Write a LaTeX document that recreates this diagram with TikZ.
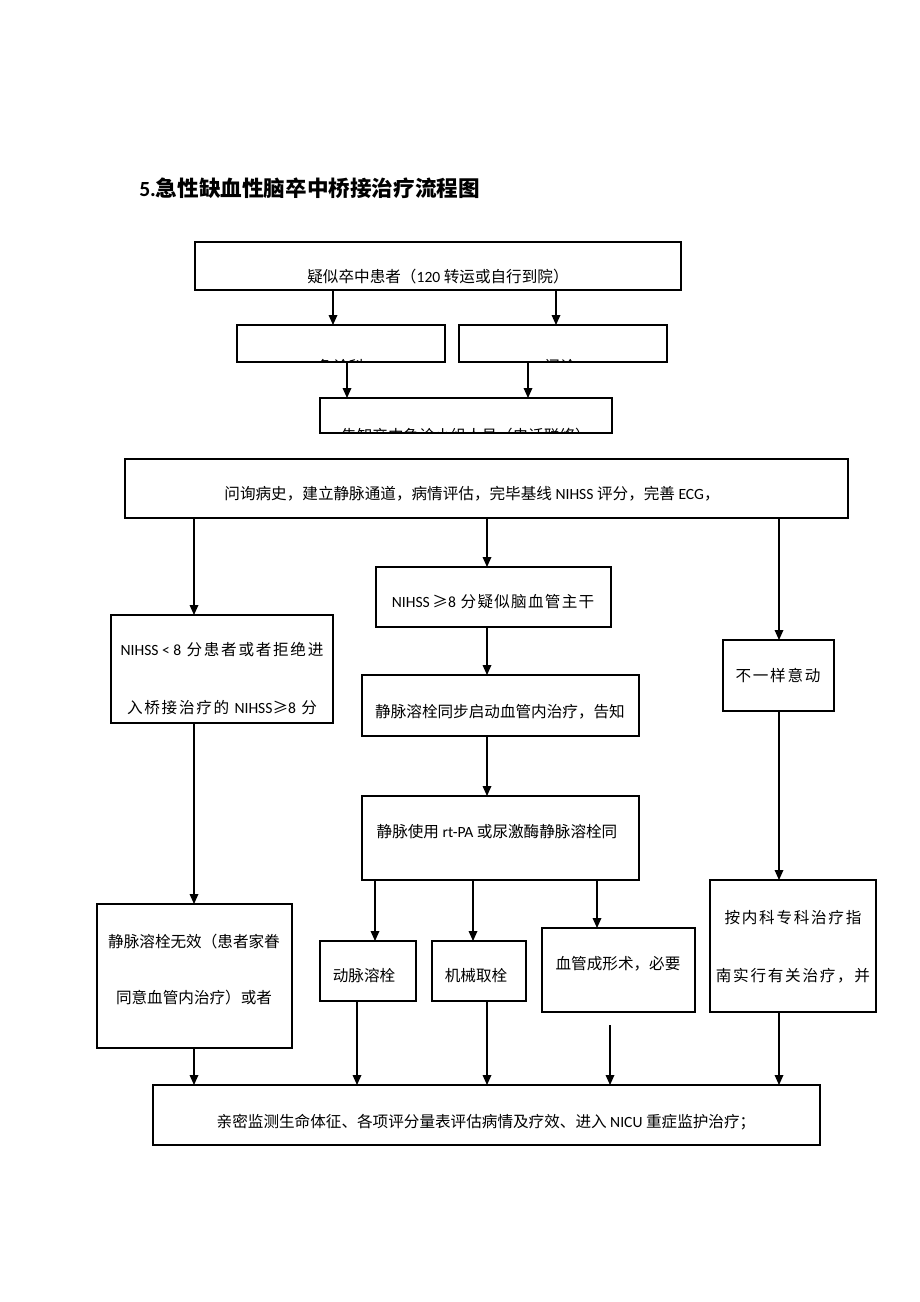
\documentclass[tikz,border=0pt]{standalone}
\usepackage{fontspec}
\setmainfont{Noto Sans CJK SC}
\newfontfamily\lat{Carlito}
\usetikzlibrary{arrows.meta}
\newcommand\bx[5]{\node[box, minimum width={(#4-#2)*0.75pt}, minimum height={(#5-#3)*0.75pt}] (#1) at ({(#2+#4)/2},{(#3+#5)/2}) {};}
\begin{document}
\begin{tikzpicture}[x=0.75pt,y=-0.75pt,
  box/.style={draw, line width=0.9pt, inner sep=0pt, outer sep=0pt},
  arr/.style={line width=0.9pt, -{Triangle[length=7.5pt,width=6.5pt]}},
  txt/.style={inner sep=0pt, font=\fontsize{11.7pt}{14pt}\selectfont},
  sp/.style={txt, font=\fontsize{11.7pt}{14pt}\selectfont\addfontfeature{LetterSpace=#1}}]
\useasboundingbox (0,0) rectangle (920,1302);
% title
\node[anchor=west, inner sep=0pt, font=\fontsize{16.2pt}{19pt}\selectfont\bfseries] (title) at (139,188) {{\lat 5.}急性缺血性脑卒中桥接治疗流程图};
% boxes
\bx{A}{195}{242}{681}{290}
\bx{B1}{237}{325}{445}{362}
\bx{B2}{459}{325}{667}{362}
\bx{C}{320}{398}{612}{433}
\bx{D}{125}{459}{848}{518}
\bx{E1}{111}{615}{333}{723}
\bx{E2}{376}{567}{611}{627}
\bx{E3}{723}{640}{834}{711}
\bx{F}{362}{675}{639}{736}
\bx{G}{362}{796}{639}{880}
\bx{H1}{97}{904}{292}{1048}
\bx{H3}{710}{880}{876}{1012}
\bx{I1}{320}{941}{416}{1001}
\bx{I2}{432}{941}{526}{1001}
\bx{I3}{542}{928}{695}{1012}
\bx{J}{153}{1085}{820}{1145}
% texts
\node[txt] (tA) at (438,277) {疑似卒中患者（{\lat 120} 转运或自行到院）};
\begin{scope}
\clip (B1.south west) rectangle (B1.north east);
\node[txt] (tB1) at (341,367) {急诊科};
\end{scope}
\begin{scope}
\clip (B2.south west) rectangle (B2.north east);
\node[txt] (tB2) at (560,367) {门诊};
\end{scope}
\begin{scope}
\clip (C.south west) rectangle (C.north east);
\node[txt] (tC) at (466,436) {告知卒中急诊小组人员（电话联络）};
\end{scope}
\node[txt] (tD) at (472,494) {问询病史，建立静脉通道，病情评估，完毕基线 {\lat NIHSS} 评分，完善 {\lat ECG}，};
\node[sp=8] (tE2) at (493,602) {{\lat NIHSS}\,≥{\lat 8} 分疑似脑血管主干};
\node[sp=11] (tE1a) at (222,650) {{\lat NIHSS < 8} 分患者或者拒绝进};
\node[sp=11] (tE1b) at (222,708) {入桥接治疗的 {\lat NIHSS}≥{\lat 8} 分};
\node[sp=11] (tE3) at (778,675) {不一样意动};
\node[txt] (tF) at (500,712) {静脉溶栓同步启动血管内治疗，告知};
\node[txt] (tG) at (497,832) {静脉使用 {\lat rt-PA} 或尿激酶静脉溶栓同};
\node[txt] (tH1a) at (194,942) {静脉溶栓无效（患者家眷};
\node[txt] (tH1b) at (194,998) {同意血管内治疗）或者};
\node[txt] (tI1) at (364,976) {动脉溶栓};
\node[txt] (tI2) at (476,976) {机械取栓};
\node[txt] (tI3) at (618,964) {血管成形术，必要};
\node[sp=11] (tH3a) at (793,918) {按内科专科治疗指};
\node[sp=11] (tH3b) at (793,976) {南实行有关治疗，并};
\node[txt] (tJ) at (486,1122) {亲密监测生命体征、各项评分量表评估病情及疗效、进入 {\lat NICU} 重症监护治疗；};
% connector x positions
\coordinate (x333) at (333,0);
\coordinate (x556) at (556,0);
\coordinate (x347) at (347,0);
\coordinate (x528) at (528,0);
\coordinate (x194) at (194,0);
\coordinate (x487) at (487,0);
\coordinate (x779) at (779,0);
\coordinate (x375) at (375,0);
\coordinate (x473) at (473,0);
\coordinate (x597) at (597,0);
\coordinate (x357) at (357,0);
\coordinate (i3s) at (610,1025);
% connectors
\draw[arr] (A.south -| x333) -- (B1.north -| x333);
\draw[arr] (A.south -| x556) -- (B2.north -| x556);
\draw[arr] (B1.south -| x347) -- (C.north -| x347);
\draw[arr] (B2.south -| x528) -- (C.north -| x528);
\draw[arr] (D.south -| x194) -- (E1.north -| x194);
\draw[arr] (D.south -| x487) -- (E2.north -| x487);
\draw[arr] (D.south -| x779) -- (E3.north -| x779);
\draw[arr] (E2.south -| x487) -- (F.north -| x487);
\draw[arr] (F.south -| x487) -- (G.north -| x487);
\draw[arr] (E1.south -| x194) -- (H1.north -| x194);
\draw[arr] (E3.south -| x779) -- (H3.north -| x779);
\draw[arr] (G.south -| x375) -- (I1.north -| x375);
\draw[arr] (G.south -| x473) -- (I2.north -| x473);
\draw[arr] (G.south -| x597) -- (I3.north -| x597);
\draw[arr] (H1.south -| x194) -- (J.north -| x194);
\draw[arr] (I1.south -| x357) -- (J.north -| x357);
\draw[arr] (I2.south -| x487) -- (J.north -| x487);
\draw[arr] (i3s) -- (J.north -| i3s);
\draw[arr] (H3.south -| x779) -- (J.north -| x779);
\end{tikzpicture}
\end{document}
